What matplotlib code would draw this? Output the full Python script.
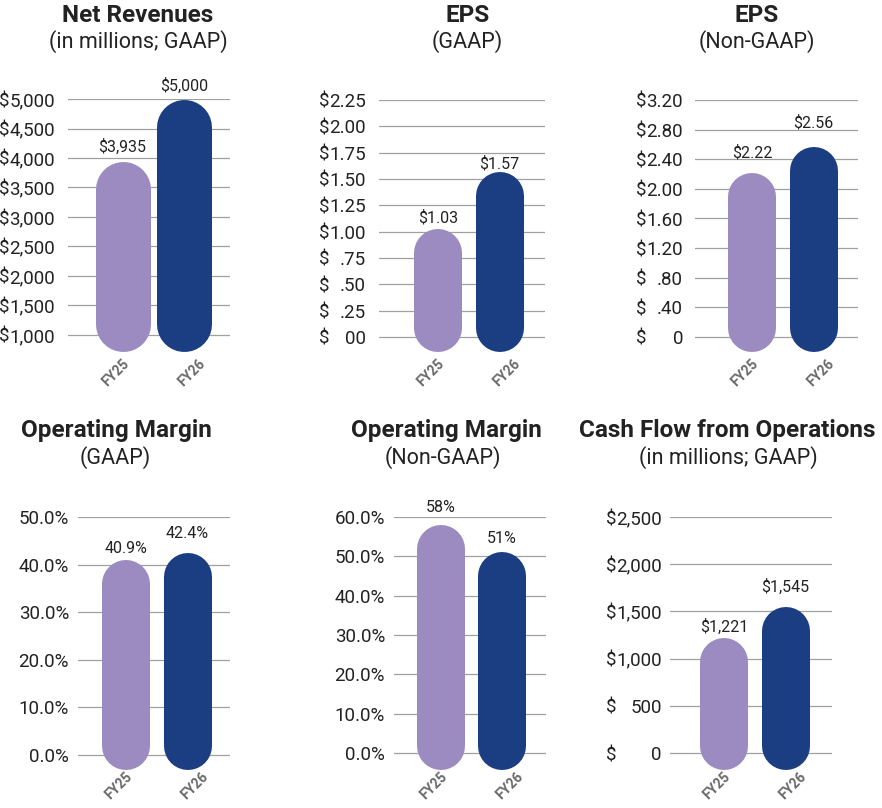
import matplotlib.pyplot as plt
from matplotlib.transforms import blended_transform_factory

plt.rcParams['font.family'] = ['Roboto', 'DejaVu Sans']

W, H, DPI = 882, 808, 100
LIGHT = '#9b8bc0'
DARK = '#1b3d82'
GRID = '#a0a0a0'
TEXT = '#222222'

years = ['FY25', 'FY26']

revenue = [3935, 5000]
revenue_labels = ['$3,935', '$5,000']
revenue_ticks = [1000, 1500, 2000, 2500, 3000, 3500, 4000, 4500, 5000]
revenue_ticklabels = ['1,000', '1,500', '2,000', '2,500', '3,000', '3,500', '4,000', '4,500', '5,000']

eps_gaap = [1.03, 1.57]
eps_gaap_labels = ['$1.03', '$1.57']
eps_gaap_ticks = [0, 0.25, 0.5, 0.75, 1.0, 1.25, 1.5, 1.75, 2.0, 2.25]
eps_gaap_ticklabels = ['00', '.25', '.50', '.75', '1.00', '1.25', '1.50', '1.75', '2.00', '2.25']

eps_non = [2.22, 2.56]
eps_non_labels = ['$2.22', '$2.56']
eps_non_ticks = [0, 0.4, 0.8, 1.2, 1.6, 2.0, 2.4, 2.8, 3.2]
eps_non_ticklabels = ['0', '.40', '.80', '1.20', '1.60', '2.00', '2.40', '2.80', '3.20']

opm_gaap = [40.9, 42.4]
opm_gaap_labels = ['40.9%', '42.4%']
opm_gaap_ticks = [0, 10, 20, 30, 40, 50]
opm_gaap_ticklabels = ['0.0%', '10.0%', '20.0%', '30.0%', '40.0%', '50.0%']

opm_non = [58, 51]
opm_non_labels = ['58%', '51%']
opm_non_ticks = [0, 10, 20, 30, 40, 50, 60]
opm_non_ticklabels = ['0.0%', '10.0%', '20.0%', '30.0%', '40.0%', '50.0%', '60.0%']

cfo = [1221, 1545]
cfo_labels = ['$1,221', '$1,545']
cfo_ticks = [0, 500, 1000, 1500, 2000, 2500]
cfo_ticklabels = ['0', '500', '1,000', '1,500', '2,000', '2,500']

panels = [
    ('Net Revenues', '(in millions; GAAP)', revenue, revenue_labels, revenue_ticks, revenue_ticklabels, True),
    ('EPS', '(GAAP)', eps_gaap, eps_gaap_labels, eps_gaap_ticks, eps_gaap_ticklabels, True),
    ('EPS', '(Non-GAAP)', eps_non, eps_non_labels, eps_non_ticks, eps_non_ticklabels, True),
    ('Operating Margin', '(GAAP)', opm_gaap, opm_gaap_labels, opm_gaap_ticks, opm_gaap_ticklabels, False),
    ('Operating Margin', '(Non-GAAP)', opm_non, opm_non_labels, opm_non_ticks, opm_non_ticklabels, False),
    ('Cash Flow from Operations', '(in millions; GAAP)', cfo, cfo_labels, cfo_ticks, cfo_ticklabels, True),
]

# pixel layout: grid left/right, top tick y, baseline y, bar bottom y, first bar x,
# bar width, title x, subtitle x, title y, tick pad, label gaps, FY label drop
layout = [
    (68, 230, 99, 335, 352, 122.5, 55, 138, 138, 15, 13, (10, 8), 21),
    (379, 545, 100, 337, 352, 438, 48, 468, 467, 15, 13, (6, 3), 21),
    (695, 858, 100, 337, 352, 752, 48, 757, 757, 15, 12, (15, 20), 21),
    (78, 230, 517, 755, 770, 126, 48, 116, 115, 431, 9, (7, 15), 16),
    (394, 546, 517, 753, 770, 440.5, 48, 446, 443, 431, 9, (13, 9), 16),
    (670, 832, 517, 753, 770, 724, 48, 727, 728, 431, 8, (6, 15), 16),
]
SPACING = 61.5
FY_SPREAD = 1.24  # category labels sit a bit wider apart than the bars

fig = plt.figure(figsize=(W / DPI, H / DPI), dpi=DPI)

axes = []
for (title, sub, vals, vlabels, ticks, tlabels, dollar), lay in zip(panels, layout):
    left, right, top_px, base_px, bot_px, c0, bw, tx, sx, ty, pad, gaps, drop = lay
    ax = fig.add_axes([left / W, 1 - bot_px / H, (right - left) / W, (bot_px - top_px) / H])
    scale = (ticks[-1] - ticks[0]) / (base_px - top_px)  # data per pixel
    ymin = ticks[0] - (bot_px - base_px) * scale
    ax.set_ylim(ymin, ticks[-1])
    ax.set_xlim((left - c0) / SPACING, (right - c0) / SPACING)

    for t in ticks:
        ax.axhline(t, color=GRID, lw=0.9, zorder=1)

    r = bw / 2 * scale
    for i, (v, lab, col) in enumerate(zip(vals, vlabels, [LIGHT, DARK])):
        ax.plot([i, i], [ymin + r, v - r], color=col, lw=bw * 72 / DPI,
                solid_capstyle='round', zorder=3)
        ax.annotate(lab, (i, v), xytext=(0, gaps[i] * 72 / DPI), textcoords='offset points',
                    ha='center', va='baseline', fontsize=11.5, color=TEXT)
        xl = 0.5 + (i - 0.5) * FY_SPREAD
        ax.annotate(years[i], (xl, 0), xycoords=ax.get_xaxis_transform(),
                    xytext=(0, -drop * 72 / DPI), textcoords='offset points',
                    rotation=45, rotation_mode='anchor', ha='center', va='center',
                    fontsize=10, fontweight='bold', color='#6a6a6a')

    ax.set_yticks(ticks)
    ax.set_yticklabels(tlabels, fontsize=13.5, color=TEXT)
    ax.tick_params(axis='y', length=0, pad=pad * 72 / DPI)
    ax.set_xticks([])
    for s in ax.spines.values():
        s.set_visible(False)
    ax.patch.set_alpha(0)

    fig.text(tx / W, 1 - ty / H, title, ha='center', va='center',
             fontsize=17.5, fontweight='bold', color=TEXT)
    fig.text(sx / W, 1 - (ty + 27) / H, sub, ha='center', va='center',
             fontsize=15.5, color=TEXT)
    axes.append((ax, dollar))

# the dollar sign sits left-aligned in front of the right-aligned numbers
fig.canvas.draw()
renderer = fig.canvas.get_renderer()
for ax, dollar in axes:
    if not dollar:
        continue
    labels = ax.get_yticklabels()
    x0 = min(l.get_window_extent(renderer).x0 for l in labels)
    bb = ax.get_window_extent(renderer)
    xa = (x0 - bb.x0) / bb.width
    tr = blended_transform_factory(ax.transAxes, ax.transData)
    for t in ax.get_yticks():
        ax.text(xa, t, '$', transform=tr, ha='right', va='center_baseline',
                fontsize=13.5, color=TEXT)

fig.savefig('out.png', dpi=DPI)
